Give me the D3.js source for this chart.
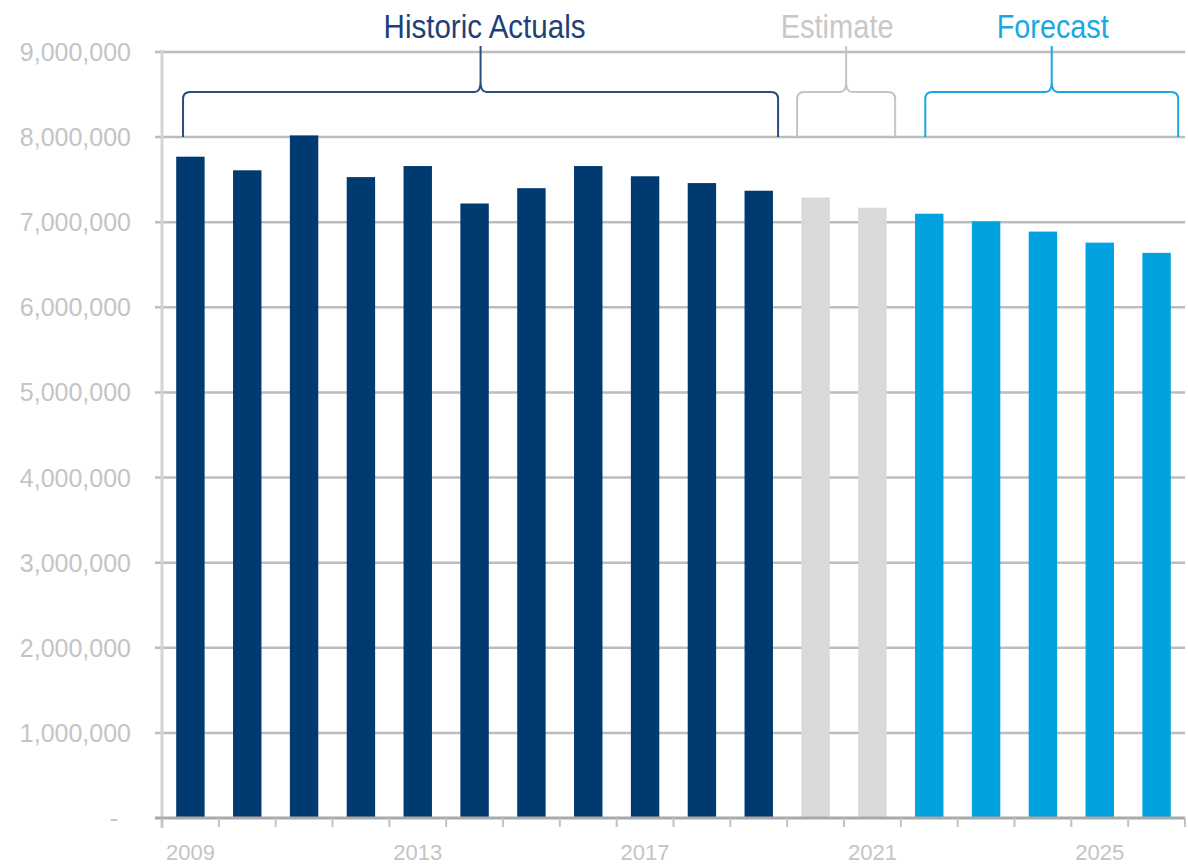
<!DOCTYPE html>
<html>
<head>
<meta charset="utf-8">
<script src="https://cdn.jsdelivr.net/npm/d3@7"></script>
<style>
  html, body { margin: 0; padding: 0; background: #fff; }
  svg { display: block; }
</style>
</head>
<body>
<svg id="chart" width="1188" height="865"></svg>
<script>
// ---- data ----
const categories = ['2009','2010','2011','2012','2013','2014','2015','2016','2017','2018','2019','2020','2021','2022','2023','2024','2025','2026'];
const values = [7770000, 7610000, 8020000, 7530000, 7660000, 7220000, 7400000, 7660000, 7540000, 7460000, 7370000, 7290000, 7170000, 7100000, 7010000, 6890000, 6760000, 6640000];
const periods = ['Historic','Historic','Historic','Historic','Historic','Historic','Historic','Historic','Historic','Historic','Historic','Estimate','Estimate','Forecast','Forecast','Forecast','Forecast','Forecast'];
const yTickValues = [0, 1000000, 2000000, 3000000, 4000000, 5000000, 6000000, 7000000, 8000000, 9000000];
const xTickLabels = ['2009','2013','2017','2021','2025'];
const groupLabels = ['Historic Actuals', 'Estimate', 'Forecast'];
const groupFrom = ['2009', '2020', '2022'];
const groupTo = ['2019', '2021', '2026'];

// ---- styles ----
const periodColor = { Historic: '#003a70', Estimate: '#d9d9d9', Forecast: '#00a3e0' };
const braceColor = ['#2a4a80', '#c4c4c4', '#1aa8e2'];
const labelColor = ['#1f3f78', '#c8c8c8', '#1aa8e2'];
const braceInsetL = [0.24, -0.15, 0.36];   // fraction of bar width
const braceInsetR = [1.18, 1.30, 1.26];
const labelShift = [4, -9, 1];
const labelWidths = [202, 113, 112];

(function () {
const svg = d3.select('#chart');
const pLeft = 162, pRight = 1185, pTop = 52, pBottom = 818;

const x = d3.scaleBand().domain(categories).range([pLeft, pRight]).paddingInner(0.5).paddingOuter(0.25);
const y = d3.scaleLinear().domain([0, 9000000]).range([pBottom, pTop]);
const bw = x.bandwidth();
const step = x.step();

// gridlines
svg.append('g').selectAll('line').data(yTickValues.filter(d => d > 0)).join('line')
  .attr('x1', pLeft - 7).attr('x2', pRight)
  .attr('y1', d => y(d)).attr('y2', d => y(d))
  .attr('stroke', '#bdbdbd').attr('stroke-width', 2.5);

// y axis line
svg.append('line').attr('x1', pLeft).attr('x2', pLeft).attr('y1', pTop - 2).attr('y2', pBottom + 10)
  .attr('stroke', '#d4d4d4').attr('stroke-width', 3);

// bars
svg.append('g').selectAll('rect').data(categories).join('rect')
  .attr('x', d => x(d))
  .attr('width', bw)
  .attr('y', (d, i) => y(values[i]))
  .attr('height', (d, i) => y(0) - y(values[i]))
  .attr('fill', (d, i) => periodColor[periods[i]]);

// x axis baseline
svg.append('line').attr('x1', pLeft - 7).attr('x2', pRight).attr('y1', y(0)).attr('y2', y(0))
  .attr('stroke', '#a9a9a9').attr('stroke-width', 3);

// x ticks between categories
const tickPos = categories.map(c => x(c) - (step - bw) / 2).concat([x(categories[categories.length - 1]) + bw + (step - bw) / 2]);
svg.append('g').selectAll('line').data(tickPos).join('line')
  .attr('x1', d => d).attr('x2', d => d)
  .attr('y1', y(0)).attr('y2', y(0) + 9)
  .attr('stroke', '#c2c2c2').attr('stroke-width', 2);

// y labels
svg.append('g').selectAll('text').data(yTickValues).join('text')
  .attr('x', d => d === 0 ? 118 : 131)
  .attr('y', d => y(d) + 9)
  .attr('text-anchor', 'end')
  .attr('font-family', 'Liberation Sans, Arial, sans-serif')
  .attr('font-size', 25)
  .attr('fill', '#c4c4c4')
  .text(d => d === 0 ? '-' : d3.format(',')(d));

// x labels
svg.append('g').selectAll('text').data(xTickLabels).join('text')
  .attr('x', d => x(d) + bw / 2)
  .attr('y', 860)
  .attr('text-anchor', 'middle')
  .attr('font-family', 'Liberation Sans, Arial, sans-serif')
  .attr('font-size', 22)
  .attr('fill', '#c4c4c4')
  .text(d => d);

// braces and group labels
const yh = 92, yb = y(8000000), ytop = 46, r = 7;
groupLabels.forEach((lab, i) => {
  const x0 = x(groupFrom[i]) + bw * braceInsetL[i];
  const x1 = x(groupTo[i]) + bw * braceInsetR[i];
  const xm = (x0 + x1) / 2;
  const p = `M${x0},${yb} L${x0},${yh + r} Q${x0},${yh} ${x0 + r},${yh} L${xm - 6},${yh} Q${xm},${yh} ${xm},${yh - 10} L${xm},${ytop} ` +
            `M${xm},${yh - 10} Q${xm},${yh} ${xm + 6},${yh} L${x1 - r},${yh} Q${x1},${yh} ${x1},${yh + r} L${x1},${yb}`;
  svg.append('path').attr('d', p).attr('fill', 'none')
    .attr('stroke', braceColor[i]).attr('stroke-width', 2);
  svg.append('text')
    .attr('x', xm + labelShift[i]).attr('y', 38)
    .attr('text-anchor', 'middle')
    .attr('font-family', 'Liberation Sans, Arial, sans-serif')
    .attr('font-size', 33)
    .attr('fill', labelColor[i])
    .attr('textLength', labelWidths[i]).attr('lengthAdjust', 'spacingAndGlyphs')
    .text(lab);
});
})();
</script>
</body>
</html>
